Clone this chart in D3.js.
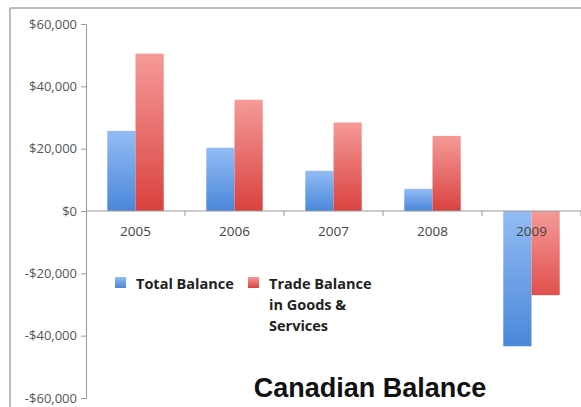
<!DOCTYPE html>
<html>
<head>
<meta charset="utf-8">
<script src="https://d3js.org/d3.v7.min.js"></script>
<style>
  body { margin: 0; background: #fff; }
  svg { display: block; }
</style>
</head>
<body>
<div id="chart"></div>
<script>
// data
var years = ['2005', '2006', '2007', '2008', '2009']
var totalBalance = [25700, 20300, 12900, 7100, -43400]
var tradeBalance = [50500, 35700, 28400, 24100, -27000]
var yTicks = [-60000, -40000, -20000, 0, 20000, 40000, 60000]
var seriesNames = ['Total Balance', 'Trade Balance\nin Goods &\nServices']

var svgWidth = 581
var svgHeight = 407

var svg = d3.select('#chart')
  .append('svg')
  .attr('width', svgWidth)
  .attr('height', svgHeight)

// gradients for the bars
var defs = svg.append('defs')
function addGradient (id, top, bottom) {
  var g = defs.append('linearGradient')
    .attr('id', id)
    .attr('x1', 0).attr('y1', 0).attr('x2', 0).attr('y2', 1)
  g.append('stop').attr('offset', '0%').attr('stop-color', top)
  g.append('stop').attr('offset', '100%').attr('stop-color', bottom)
}
addGradient('gBlue', '#93bcf5', '#4a87d9')
addGradient('gRed', '#f59a98', '#d9423f')
addGradient('gRedNeg', '#f59a98', '#e0504d')

// outer frame (top and left edges visible)
svg.append('line')
  .attr('x1', 10).attr('y1', 8).attr('x2', svgWidth).attr('y2', 8)
  .attr('stroke', '#bbb').attr('stroke-width', 2)
svg.append('line')
  .attr('x1', 10).attr('y1', 8).attr('x2', 10).attr('y2', svgHeight)
  .attr('stroke', '#bbb').attr('stroke-width', 2)

var plotLeft = 86
var plotRight = 581
var plotTop = 24
var plotBottom = 398

var x = d3.scaleBand()
  .domain(years)
  .range([plotLeft, plotRight])
  .paddingInner(0.43)
  .paddingOuter(0.215)

var xInner = d3.scaleBand()
  .domain([0, 1])
  .range([0, x.bandwidth()])

var y = d3.scaleLinear()
  .domain([-60000, 60000])
  .range([plotBottom, plotTop])

var fmt = function (d) {
  return (d < 0 ? '-$' : '$') + d3.format(',')(Math.abs(d))
}

// y axis
var yAxis = svg.append('g')
  .attr('transform', `translate(${plotLeft}, 0)`)
  .call(d3.axisLeft(y).tickValues(yTicks).tickFormat(fmt).tickSize(5).tickPadding(4))
yAxis.select('.domain').attr('stroke', '#999')
yAxis.selectAll('.tick line').attr('stroke', '#999')
yAxis.selectAll('.tick text')
  .attr('fill', '#555')
  .style('font-family', '"Open Sans", sans-serif')
  .style('font-size', '13px')

// bars
var bars = svg.append('g')
years.forEach(function (yr, i) {
  var vals = [totalBalance[i], tradeBalance[i]]
  vals.forEach(function (v, j) {
    var fill = j === 0 ? 'url(#gBlue)' : (v >= 0 ? 'url(#gRed)' : 'url(#gRedNeg)')
    bars.append('rect')
      .attr('x', x(yr) + xInner(j))
      .attr('y', y(Math.max(0, v)))
      .attr('width', xInner.bandwidth())
      .attr('height', Math.abs(y(v) - y(0)))
      .attr('fill', fill)
  })
})

// x axis at zero, ticks at band boundaries
var xAxis = svg.append('g')
xAxis.append('line')
  .attr('x1', plotLeft).attr('x2', plotRight)
  .attr('y1', y(0)).attr('y2', y(0))
  .attr('stroke', '#999')
var step = x.step()
years.forEach(function (yr, i) {
  var bx = plotLeft + step * (i + 1)
  xAxis.append('line')
    .attr('x1', bx).attr('x2', bx)
    .attr('y1', y(0)).attr('y2', y(0) + 5)
    .attr('stroke', '#999')
})
xAxis.selectAll('text.year')
  .data(years)
  .enter()
  .append('text')
  .attr('class', 'year')
  .attr('x', d => x(d) + x.bandwidth() / 2)
  .attr('y', y(0) + 25)
  .attr('text-anchor', 'middle')
  .attr('fill', '#444')
  .style('font-family', '"Open Sans", sans-serif')
  .style('font-size', '13.5px')
  .text(d => d)

// legend
var legend = svg.append('g')
  .style('font-family', '"Open Sans", sans-serif')
  .style('font-size', '14.5px')
  .style('font-weight', 'bold')
var legendX = [115, 248]
var legendFill = ['url(#gBlue)', 'url(#gRed)']
seriesNames.forEach(function (name, i) {
  legend.append('rect')
    .attr('x', legendX[i]).attr('y', 277)
    .attr('width', 11).attr('height', 11)
    .attr('fill', legendFill[i])
  var t = legend.append('text')
    .attr('x', legendX[i] + 21)
    .attr('y', 289)
    .attr('fill', '#222')
  name.split('\n').forEach(function (line, k) {
    t.append('tspan')
      .attr('x', legendX[i] + 21)
      .attr('dy', k === 0 ? 0 : 21)
      .text(line)
  })
})

// title
svg.append('text')
  .attr('x', 370)
  .attr('y', 397)
  .attr('text-anchor', 'middle')
  .attr('fill', '#111')
  .style('font-family', '"Liberation Sans", Arial, sans-serif')
  .style('font-size', '27px')
  .style('font-weight', 'bold')
  .text('Canadian Balance')
</script>
</body>
</html>
